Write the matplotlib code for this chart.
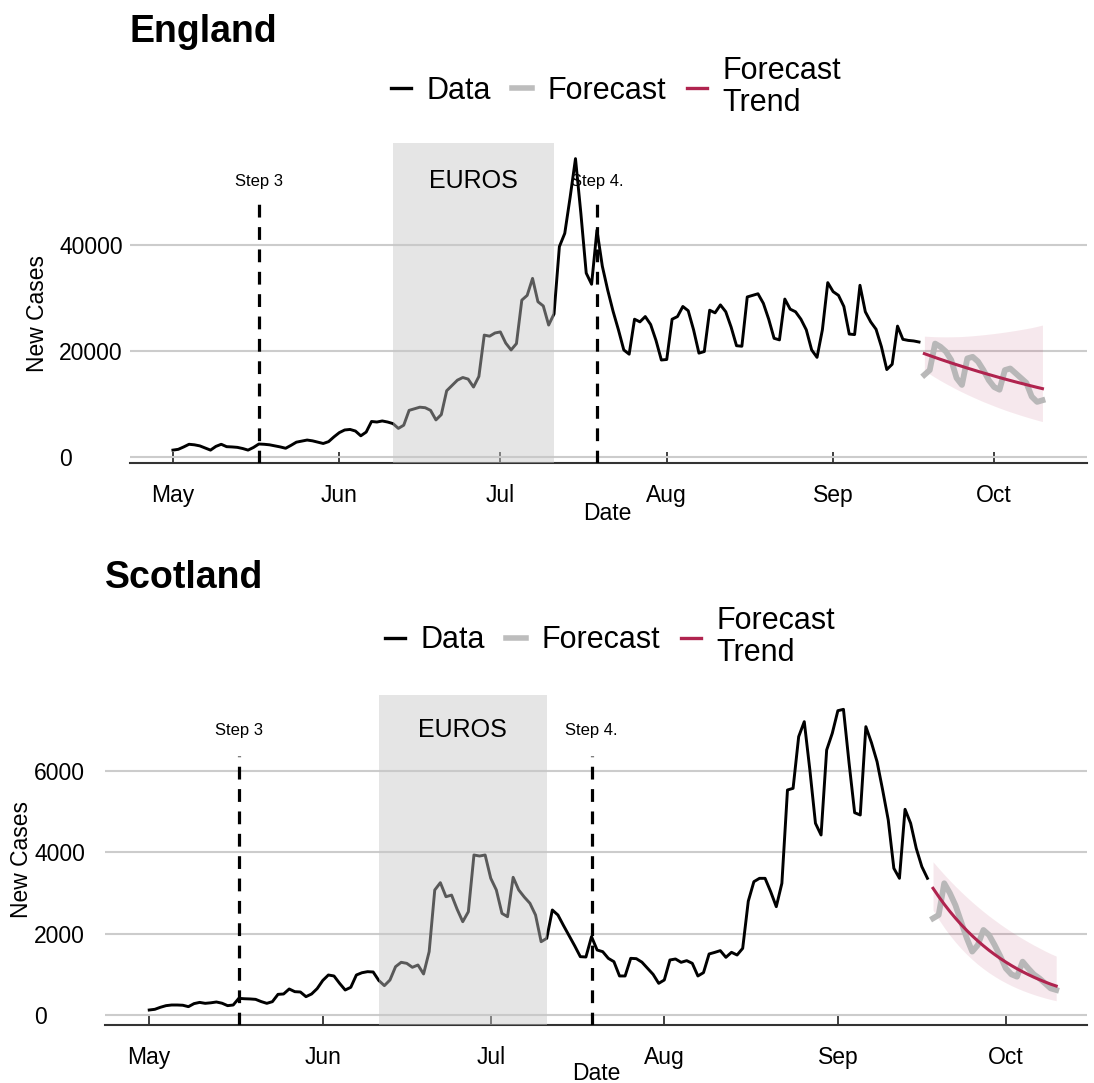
import numpy as np
import pandas as pd
import matplotlib
matplotlib.use("Agg")
import matplotlib.pyplot as plt
from matplotlib.lines import Line2D

plt.rcParams['font.family'] = ['Liberation Sans', 'DejaVu Sans']

# daily new cases, 1 May 2021 onwards
eng_cases = [1300, 1450, 1900, 2400, 2300, 2100, 1700, 1300, 2000, 2400,
             1950, 1900, 1820, 1600, 1300, 1800, 2450, 2400, 2300, 2100,
             1900, 1650, 2200, 2800, 3000, 3200, 3050, 2800, 2550, 2900,
             3800, 4600, 5100, 5200, 4900, 4000, 4700, 6700, 6600, 6800,
             6600, 6300, 5400, 6000, 8800, 9100, 9400, 9300, 8800, 7000,
             8000, 12500, 13500, 14500, 15000, 14700, 13200, 15200, 23000, 22800,
             23400, 23600, 21500, 20200, 21400, 29600, 30500, 33700, 29300, 28500,
             24900, 27000, 39700, 42200, 49000, 56300, 46000, 34700, 32600, 42800,
             36000, 31500, 27500, 24000, 20200, 19400, 26000, 25500, 26500, 25000,
             22000, 18300, 18400, 26000, 26500, 28400, 27600, 24000, 19600, 19900,
             27700, 27200, 28700, 27400, 24500, 21000, 20900, 30200, 30500, 30800,
             29000, 26000, 22400, 22100, 29800, 27900, 27400, 26000, 24000, 20200,
             18800, 24000, 32900, 31200, 30500, 28400, 23200, 23100, 32400, 27400,
             25500, 24100, 20800, 16500, 17500, 24700, 22200, 22000, 21900, 21700]

sco_cases = [123, 140, 190, 230, 246, 246, 240, 205, 280, 310,
             287, 300, 320, 290, 230, 246, 410, 400, 395, 385,
             330, 287, 328, 508, 517, 640, 574, 566, 451, 517,
             650, 850, 984, 960, 779, 615, 681, 984, 1040, 1066,
             1058, 850, 722, 861, 1189, 1296, 1271, 1173, 1230, 1009,
             1558, 3075, 3255, 2910, 2950, 2600, 2295, 2541, 3936, 3911,
             3936, 3363, 3075, 2500, 2418, 3387, 3075, 2900, 2748, 2460,
             1803, 1886, 2583, 2460, 2200, 1950, 1700, 1435, 1427, 1927,
             1599, 1558, 1394, 1312, 960, 960, 1394, 1386, 1300, 1148,
             1000, 779, 861, 1353, 1378, 1296, 1337, 1271, 960, 1042,
             1501, 1540, 1583, 1419, 1542, 1476, 1640, 2800, 3280, 3362,
             3362, 3034, 2665, 3239, 5535, 5576, 6847, 7216, 6027, 4716,
             4428, 6519, 6929, 7486, 7519, 6200, 4977, 4920, 7093, 6700,
             6232, 5535, 4797, 3609, 3363, 5060, 4716, 4100, 3649, 3363]

# forecast, 18 Sep - 10 Oct
eng_fc = [15500, 16400, 21400, 20800, 19900, 18300, 14900, 13600, 18600, 18900,
          18000, 16400, 14500, 13200, 12700, 16400, 16700, 15800, 14900, 14000,
          11400, 10400, 10700]
eng_trend = [19500, 19140, 18780, 18430, 18090, 17750, 17420, 17100, 16780, 16470,
             16160, 15860, 15570, 15280, 14990, 14710, 14440, 14170, 13910, 13650,
             13390, 13140, 12900]
eng_lo = [16290, 15650, 15020, 14420, 13850, 13310, 12770, 12270, 11780, 11320,
          10870, 10430, 10030, 9630, 9240, 8870, 8520, 8190, 7860, 7550,
          7250, 6960, 6680]
eng_hi = [22800, 22750, 22700, 22680, 22670, 22680, 22700, 22740, 22800, 22880,
          22970, 23070, 23180, 23300, 23430, 23570, 23720, 23880, 24050, 24230,
          24420, 24650, 24900]

sco_fc = [2378, 2460, 3240, 3000, 2700, 2300, 1900, 1560, 1722, 2091,
          1968, 1722, 1450, 1148, 1000, 943, 1312, 1148, 1000, 902,
          780, 656, 615]
sco_trend = [3117, 2915, 2725, 2548, 2383, 2228, 2083, 1948, 1821, 1703,
             1592, 1489, 1392, 1302, 1217, 1138, 1064, 995, 930, 870,
             813, 760, 713]
sco_lo = [2578, 2355, 2149, 1963, 1793, 1637, 1495, 1366, 1246, 1139,
          1040, 950, 867, 792, 723, 660, 603, 551, 503, 459,
          419, 383, 351]
sco_hi = [3768, 3609, 3455, 3307, 3167, 3032, 2902, 2778, 2660, 2546,
          2437, 2335, 2234, 2139, 2048, 1961, 1877, 1797, 1720, 1648,
          1576, 1509, 1449]

steps = [("2021-05-17", "Step 3"), ("2021-07-19", "Step 4.")]
euros = ("2021-06-11", "2021-07-11")

RED = "#B0244F"
start = pd.Timestamp("2021-05-01")
dates = pd.date_range(start, periods=len(eng_cases))
fc_dates = pd.date_range("2021-09-18", periods=len(eng_fc))

W, H = 1094, 1083
fig = plt.figure(figsize=(W / 100, H / 100), dpi=100)


def px_axes(left, top, right, bottom):
    return fig.add_axes([left / W, 1 - bottom / H, (right - left) / W, (bottom - top) / H])


def draw_panel(ax, cases, fc, trend, lo, hi, xlim, ylim, yticks, step_top, lab_y):
    ax.fill_between(fc_dates, lo, hi, color=RED, alpha=0.1, linewidth=0, zorder=2)
    ax.plot(dates, cases, color="black", lw=2.1, zorder=3)
    ax.plot(fc_dates, fc, color="#b5b5b5", lw=4.2, alpha=0.95, zorder=3)
    ax.plot(fc_dates, trend, color=RED, lw=2.2, zorder=4)
    ax.axvspan(pd.Timestamp(euros[0]), pd.Timestamp(euros[1]),
               color=(198 / 255,) * 3, alpha=0.455, lw=0, zorder=5)
    for d, lab in steps:
        d = pd.Timestamp(d)
        ax.plot([d, d], [ylim[0], step_top], color="black", lw=2.3,
                ls=(0, (4, 3)), zorder=6)
        ax.text(d, lab_y, lab, ha="center", va="center", fontsize=12, zorder=7)
    mid = pd.Timestamp(euros[0]) + (pd.Timestamp(euros[1]) - pd.Timestamp(euros[0])) / 2
    ax.text(mid, lab_y, "EUROS", ha="center", va="center", fontsize=18, zorder=7)

    ax.set_xlim(start + pd.Timedelta(days=xlim[0]), start + pd.Timedelta(days=xlim[1]))
    ax.set_ylim(*ylim)
    ax.set_yticks(yticks)
    ax.set_yticklabels([str(v) for v in yticks])
    months = pd.date_range("2021-05-01", "2021-10-01", freq="MS")
    ax.set_xticks(months)
    ax.set_xticklabels([m.strftime("%b") for m in months])
    ax.yaxis.grid(True, color="#cccccc", lw=1.5)
    ax.set_axisbelow(True)
    for s in ["left", "right", "top"]:
        ax.spines[s].set_visible(False)
    ax.spines["bottom"].set_color("#333333")
    ax.spines["bottom"].set_linewidth(1.5)
    ax.tick_params(axis="x", direction="in", length=8, width=1.3, color="#333333",
                   labelsize=16.5, pad=15)
    ax.tick_params(axis="y", length=0, labelsize=16.5, pad=51)
    for t in ax.get_yticklabels():
        t.set_horizontalalignment("left")


def legend(cx, cy):
    handles = [Line2D([], [], color="black", lw=2.4),
               Line2D([], [], color="#bdbdbd", lw=4.0),
               Line2D([], [], color=RED, lw=2.4)]
    leg = fig.legend(handles, ["Data", "Forecast", "Forecast\nTrend"], loc="center",
                     bbox_to_anchor=(cx / W, 1 - cy / H), ncol=3, frameon=False,
                     fontsize=22, handlelength=0.65, handletextpad=0.5,
                     columnspacing=0.7)
    leg.get_texts()[2].set_linespacing(1.12)


# England
ax1 = px_axes(130, 143, 1087, 463)
draw_panel(ax1, eng_cases, eng_fc, eng_trend, eng_lo, eng_hi,
           (-8.0, 170.3), (-1132, 59250), [0, 20000, 40000], 47930, 52000)
fig.text(130 / W, 1 - 32 / H, "England", fontsize=27, fontweight="bold", va="center")
legend(616, 87)
fig.text(607 / W, 1 - 514 / H, "Date", fontsize=16.5, ha="center", va="center")
fig.text(37 / W, 1 - 313 / H, "New Cases", fontsize=16.5, rotation=90, ha="center", va="center")

# Scotland
ax2 = px_axes(105, 695, 1087, 1025)
draw_panel(ax2, sco_cases, sco_fc, sco_trend, sco_lo, sco_hi,
           (-7.9, 167.5), (-246, 7872), [0, 2000, 4000, 6000], 6371, 7000)
fig.text(105 / W, 1 - 578 / H, "Scotland", fontsize=27, fontweight="bold", va="center")
legend(610, 637)
fig.text(596 / W, 1 - 1073 / H, "Date", fontsize=16.5, ha="center", va="center")
fig.text(22 / W, 1 - 860 / H, "New Cases", fontsize=16.5, rotation=90, ha="center", va="center")

fig.savefig("out.png", dpi=100)
